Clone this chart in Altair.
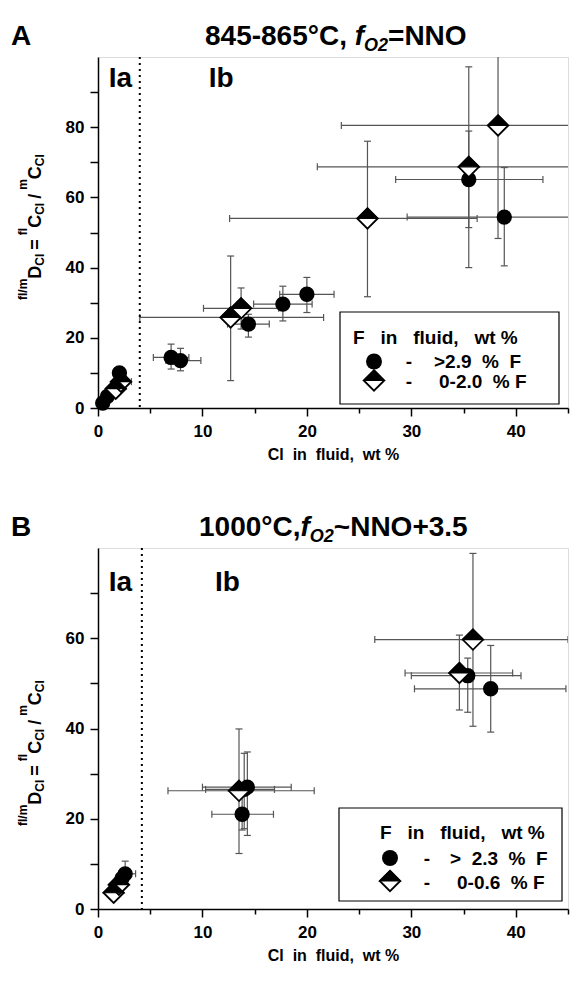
import altair as alt

FONT = "Liberation Sans"
EC = "#555555"

# ---------------- Panel A data (845-865 C) ----------------
a_circ_x   = [0.45, 0.9, 2.05, 7.0, 7.9, 14.4, 17.7, 20.0, 35.5, 38.9]
a_circ_y   = [1.4, 3.3, 10.0, 14.4, 13.5, 23.9, 29.6, 32.4, 65.1, 54.4]
a_circ_xlo = [0.2, 0.6, 1.8, 5.3, 6.5, 12.4, 14.9, 17.4, 28.5, 29.6]
a_circ_xhi = [0.7, 1.2, 2.3, 8.7, 9.85, 16.4, 20.5, 22.6, 42.6, 50.0]
a_circ_ylo = [0.8, 2.5, 8.5, 11.1, 10.6, 20.2, 24.8, 27.2, 40.0, 40.5]
a_circ_yhi = [2.0, 4.1, 11.5, 18.2, 17.0, 26.7, 34.7, 37.2, 78.9, 68.5]

a_dia_x   = [1.7, 2.2, 12.7, 13.7, 25.8, 35.5, 38.3]
a_dia_y   = [5.5, 7.5, 25.8, 28.4, 54.0, 68.7, 80.5]
a_dia_xlo = [1.4, 1.8, 4.0, 10.1, 12.6, 21.0, 23.3]
a_dia_xhi = [2.0, 3.2, 21.6, 17.3, 36.3, 50.0, 50.0]
a_dia_ylo = [4.5, 6.5, 7.8, 22.5, 31.7, 51.4, 48.3]
a_dia_yhi = [6.5, 8.5, 43.3, 34.2, 76.0, 97.2, 115.0]

# ---------------- Panel B data (1000 C) ----------------
b_circ_x   = [2.3, 2.6, 14.3, 14.0, 13.8, 35.4, 37.6]
b_circ_y   = [6.8, 7.8, 27.0, 26.5, 21.0, 51.7, 48.8]
b_circ_xlo = [1.9, 2.1, 10.0, 10.3, 10.9, 30.0, 30.3]
b_circ_xhi = [2.8, 3.6, 18.5, 16.9, 16.8, 40.5, 44.8]
b_circ_ylo = [5.5, 6.5, 16.3, 17.8, 17.5, 43.6, 39.2]
b_circ_yhi = [8.5, 10.6, 34.8, 34.5, 25.0, 55.6, 58.4]

b_dia_x   = [1.5, 2.0, 13.5, 34.6, 35.9]
b_dia_y   = [3.6, 5.4, 26.2, 52.3, 59.7]
b_dia_xlo = [1.2, 1.7, 6.7, 29.4, 26.5]
b_dia_xhi = [1.8, 2.4, 20.7, 39.7, 45.0]
b_dia_ylo = [2.8, 4.5, 12.3, 44.1, 40.5]
b_dia_yhi = [4.4, 6.3, 39.9, 60.7, 78.8]

# region boundary (Ia | Ib) and region labels
a_divider = 4.0
b_divider = 4.2
region_names = ["Ia", "Ib"]
a_region_x = [2.15, 11.8]
a_region_y = [91.5, 91.5]
b_region_x = [2.15, 12.4]
b_region_y = [70.4, 70.4]

a_legend_labels = [">2.9\u00a0 %\u00a0 F", "0-2.0\u00a0 % F"]
b_legend_labels = [">\u00a0 2.3\u00a0 %\u00a0 F", "0-0.6\u00a0 % F"]
legend_title = "F\u00a0\u00a0 in\u00a0\u00a0 fluid,\u00a0\u00a0 wt %"
x_title = "Cl\u00a0 in\u00a0 fluid,\u00a0 wt %"

# ---------------- helpers ----------------
AW = {' ': 278, '\u00a0': 278, '%': 889, '+': 584, ',': 278, '-': 333, '.': 278,
      '/': 278, '=': 584, '>': 584, '~': 584, '\u00b0': 400, 'C': 722, 'D': 722,
      'F': 611, 'N': 722, 'O': 778, 'f': 333, 'l': 278, 'm': 889}
for d in "0123456789":
    AW[d] = 556


def tw(s, size):
    return sum(AW.get(c, 556) for c in s) * size / 1000.0


def one():
    return alt.Data(values=[{}])


def txt(text, x, y, size, style="normal", angle=0, align="left"):
    return alt.Chart(one()).mark_text(
        text=text, align=align, baseline="alphabetic", font=FONT, fontSize=size,
        fontWeight="bold", fontStyle=style, angle=angle, color="black"
    ).encode(x=alt.value(x), y=alt.value(y))


def hpieces(parts, x0, y0):
    out, x = [], x0
    for text, size, style, dy in parts:
        out.append(txt(text, x, y0 + dy, size, style))
        x += tw(text, size)
    return out


def vpieces(parts, xb, y0):
    out, y = [], y0
    for text, size, dx, gap_before, gap_after in parts:
        y -= gap_before
        out.append(txt(text, xb + dx, y, size, angle=270))
        y -= tw(text, size) + gap_after
    return out


DIAMOND = "M0,-1L1,0L0,1L-1,0Z"
TOPHALF = "M-1,0L0,-1L1,0Z"
VCAP = "M0,-1L0,1"
HCAP = "M-1,0L1,0"


def records(x, y, xlo, xhi, ylo, yhi):
    return [dict(x=a, y=b, xlo=c, xhi=d, ylo=e, yhi=f)
            for a, b, c, d, e, f in zip(x, y, xlo, xhi, ylo, yhi)]


# (text, size, offset across baseline, gap before, gap after)
YTITLE = [("fl/m", 12, -14, 0, 0), ("D", 18, 0, 0, 0), ("Cl", 12, 3, 0, 0),
          ("=", 18, 0, 4, 4),
          ("fl", 12, -14, 0, 0), ("C", 18, 0, 0, 0), ("Cl", 12, 3, 0, 0),
          ("/", 18, 0, 4, 4),
          ("m", 12, -14, 0, 0), ("C", 18, 0, 0, 0), ("Cl", 12, 3, 0, 0)]

W = 470


def panel(circ, dia, ymax, ytick_max, height, divider, reg_x, reg_y, letter,
          title_parts, title_x, ytitle_y0, leg):
    xs = alt.Scale(domain=[0, 45], nice=False, zero=False)
    ys = alt.Scale(domain=[0, ymax], nice=False, zero=False)
    xa = alt.Axis(values=list(range(0, 46, 5)),
                  labelExpr="datum.value % 10 == 0 ? datum.label : ''",
                  tickSize={"condition": {"test": "datum.value % 10 == 0", "value": 8}, "value": 5},
                  title=x_title, titleFontSize=16, titleFont=FONT, titleFontWeight="bold",
                  titlePadding=7, titleColor="black",
                  labelFont=FONT, labelFontSize=17, labelFontWeight="bold", labelColor="black",
                  labelPadding=7, labelFlush=False, labelOverlap=False,
                  domainColor="black", domainWidth=1.5, tickColor="black", tickWidth=1.5, grid=False)
    ya = alt.Axis(values=list(range(0, ytick_max + 1, 10)),
                  labelExpr="datum.value % 20 == 0 ? datum.label : ''",
                  tickSize=8, title=None,
                  labelFont=FONT, labelFontSize=17, labelFontWeight="bold", labelColor="black",
                  labelPadding=6, labelFlush=False, labelOverlap=False,
                  domainColor="black", domainWidth=1.5, tickColor="black", tickWidth=1.5, grid=False)

    def X(f):
        return alt.X(f, type="quantitative", scale=xs, axis=xa)

    def Y(f):
        return alt.Y(f, type="quantitative", scale=ys, axis=ya)

    allrec = circ + dia
    base = alt.Chart(alt.Data(values=allrec))
    layers = [
        base.mark_rule(color=EC, strokeWidth=1.2, clip=True).encode(x=X("xlo"), x2="xhi", y=Y("y")),
        base.mark_rule(color=EC, strokeWidth=1.2, clip=True).encode(x=X("x"), y=Y("ylo"), y2="yhi"),
        base.mark_point(shape=VCAP, size=49, color=EC, strokeWidth=1.2, opacity=1, clip=True).encode(x=X("xlo"), y=Y("y")),
        base.mark_point(shape=VCAP, size=49, color=EC, strokeWidth=1.2, opacity=1, clip=True).encode(x=X("xhi"), y=Y("y")),
        base.mark_point(shape=HCAP, size=49, color=EC, strokeWidth=1.2, opacity=1, clip=True).encode(x=X("x"), y=Y("ylo")),
        base.mark_point(shape=HCAP, size=49, color=EC, strokeWidth=1.2, opacity=1, clip=True).encode(x=X("x"), y=Y("yhi")),
        alt.Chart(alt.Data(values=[{"x": divider}])).mark_rule(
            color="black", strokeWidth=2, strokeDash=[2, 4]).encode(x=X("x")),
    ]
    cb = alt.Chart(alt.Data(values=circ))
    db = alt.Chart(alt.Data(values=dia))
    layers += [
        cb.mark_circle(size=235, color="black", opacity=1).encode(x=X("x"), y=Y("y")),
        db.mark_point(shape=DIAMOND, size=420, filled=True, fill="white", stroke="black",
                      strokeWidth=1.8, opacity=1).encode(x=X("x"), y=Y("y")),
        db.mark_point(shape=TOPHALF, size=420, filled=True, fill="black", stroke="black",
                      strokeWidth=1.2, opacity=1).encode(x=X("x"), y=Y("y")),
    ]
    reg = [dict(x=a, y=b, t=c) for a, b, c in zip(reg_x, reg_y, region_names)]
    layers.append(alt.Chart(alt.Data(values=reg)).mark_text(
        align="center", baseline="alphabetic", font=FONT, fontSize=28, fontWeight="bold", color="black"
    ).encode(x=X("x"), y=Y("y"), text="t:N"))

    # legend box
    bx0, bx1, by0, by1 = leg["box"]
    layers.append(alt.Chart(one()).mark_rect(filled=False, stroke="black", strokeWidth=1.2).encode(
        x=alt.value(bx0), x2=alt.value(bx1), y=alt.value(by0), y2=alt.value(by1)))
    layers.append(txt(legend_title, leg["title"][0], leg["title"][1], 19))
    sx, sy1, sy2 = leg["sym"]
    layers.append(alt.Chart(one()).mark_point(shape="circle", size=255, filled=True, color="black", opacity=1)
                  .encode(x=alt.value(sx), y=alt.value(sy1)))
    layers.append(alt.Chart(one()).mark_point(shape=DIAMOND, size=420, filled=True, fill="white", stroke="black",
                                              strokeWidth=1.8, opacity=1).encode(x=alt.value(sx), y=alt.value(sy2)))
    layers.append(alt.Chart(one()).mark_point(shape=TOPHALF, size=420, filled=True, fill="black", stroke="black",
                                              strokeWidth=1.2, opacity=1).encode(x=alt.value(sx), y=alt.value(sy2)))
    dx_, b1, b2 = leg["dash"]
    layers.append(txt("-", dx_, b1, 19, align="center"))
    layers.append(txt("-", dx_, b2, 19, align="center"))
    (l1x, l1y), (l2x, l2y) = leg["labels"]
    layers.append(txt(leg["text"][0], l1x, l1y, 19))
    layers.append(txt(leg["text"][1], l2x, l2y, 19))

    # panel letter, title, y-axis title
    layers.append(txt(letter, -87, -12, 28))
    layers += hpieces(title_parts, title_x, -12)
    layers += vpieces(YTITLE, -57, ytitle_y0)

    return alt.layer(*layers).properties(width=W, height=height)


a_circ = records(a_circ_x, a_circ_y, a_circ_xlo, a_circ_xhi, a_circ_ylo, a_circ_yhi)
a_dia = records(a_dia_x, a_dia_y, a_dia_xlo, a_dia_xhi, a_dia_ylo, a_dia_yhi)
b_circ = records(b_circ_x, b_circ_y, b_circ_xlo, b_circ_xhi, b_circ_ylo, b_circ_yhi)
b_dia = records(b_dia_x, b_dia_y, b_dia_xlo, b_dia_xhi, b_dia_ylo, b_dia_yhi)

title_a = [("845-865\u00b0C,\u00a0", 28, "normal", 0), ("f", 28, "italic", 0),
           ("O2", 18, "italic", 6), ("=NNO", 28, "normal", 0)]
title_b = [("1000\u00b0C,", 28, "normal", 0), ("f", 28, "italic", 0),
           ("O2", 18, "italic", 6), ("~NNO+3.5", 28, "normal", 0)]

leg_a = dict(box=(242, 461, 255, 347), title=(255, 287), sym=(276, 304.5, 323.5),
             dash=(311, 311, 331), labels=((336, 311), (341, 331)), text=a_legend_labels)
leg_b = dict(box=(241, 464, 260, 353), title=(282, 291), sym=(292, 310, 333),
             dash=(329, 317, 341), labels=((352, 317), (359, 341)), text=b_legend_labels)

chart_a = panel(a_circ, a_dia, 100, 90, 351, a_divider, a_region_x, a_region_y, "A",
                title_a, 107, 243, leg_a)
chart_b = panel(b_circ, b_dia, 80, 70, 361, b_divider, b_region_x, b_region_y, "B",
                title_b, 101, 278, leg_b)

chart = alt.vconcat(chart_a, chart_b, spacing=50).properties(
    padding={"top": 14, "left": 2, "right": 0, "bottom": 0}
).configure_view(stroke=None).configure(font=FONT, background="white")

chart.save("out.html", embed_options={"renderer": "svg", "actions": False})
